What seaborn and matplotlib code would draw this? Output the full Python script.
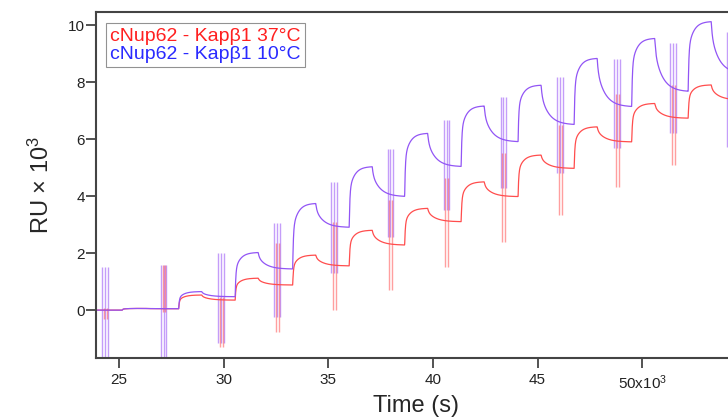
import numpy as np
import pandas as pd
import matplotlib
matplotlib.use("Agg")
import matplotlib.pyplot as plt
import seaborn as sns

# Injection cycles: start of each analyte injection (time in 10^3 s)
inject_start = [25.15, 27.85, 30.55, 33.3, 36.0, 38.65, 41.35, 44.07, 46.75, 49.5, 52.2]
# Response at end of association and at end of dissociation (RU x 10^3)
peak_37 = [0.06, 0.53, 1.12, 1.93, 2.80, 3.57, 4.50, 5.44, 6.43, 7.25, 7.90]
end_37 = [0.05, 0.35, 0.88, 1.55, 2.28, 3.10, 3.98, 4.97, 5.90, 6.73, 7.37]
peak_10 = [0.06, 0.65, 2.02, 3.74, 5.03, 6.20, 7.16, 7.89, 8.83, 9.53, 10.12]
end_10 = [0.05, 0.47, 1.44, 2.90, 3.98, 5.03, 5.90, 6.50, 7.13, 7.66, 8.30]

# Buffer pulses between injections: time and excursion range of each trace
pulse_time = [24.33, 27.13, 29.88, 32.55, 35.27, 37.97, 40.65, 43.37, 46.07, 48.79, 51.47, 54.19]
pulse_top_10 = [1.52, 1.58, 2.00, 3.04, 4.50, 5.64, 6.67, 7.48, 8.19, 8.80, 9.36, 9.77]
pulse_bot_10 = [-1.75, -1.75, -1.16, -0.23, 1.30, 2.57, 3.50, 4.30, 4.80, 5.68, 6.20, 5.73]
pulse_top_37 = [0.06, 1.58, 0.47, 2.35, 3.10, 3.86, 4.63, 5.50, 6.49, 7.60, 7.90, 8.70]
pulse_bot_37 = [-0.30, -0.05, -1.29, -0.76, 0.00, 0.70, 1.52, 2.40, 3.33, 4.33, 5.09, 5.50]

labels = ["cNup62 - Kap\u03b21 37\u00b0C", "cNup62 - Kap\u03b21 10\u00b0C"]
line_colors = ["#ff4d4d", "#9255f5"]
pulse_colors = ["#ff2a2a", "#8a3cf5"]
text_colors = ["#ff2020", "#2a2aff"]

ASSOC = 1.1  # injection length, 10^3 s


def assoc_shape(dt):
    return 1 - 0.6 * np.exp(-dt / 0.03) - 0.4 * np.exp(-dt / 0.25)


def sensorgram(t, starts, peaks, ends):
    """Association / dissociation response for a series of injections."""
    y = np.zeros_like(t)
    level = 0.0
    bounds = list(starts[1:]) + [t.max() + 1]
    norm = assoc_shape(ASSOC)
    for s, nxt, p, e in zip(starts, bounds, peaks, ends):
        m = (t >= s) & (t < nxt)
        dt = t[m] - s
        assoc = level + (p - level) * assoc_shape(dt) / norm
        dd = np.clip(dt - ASSOC, 0, None)
        dissoc = e + (p - e) * (0.25 * np.exp(-dd / 0.05) + 0.75 * np.exp(-dd / 0.38))
        y[m] = np.where(dt < ASSOC, assoc, dissoc)
        level = e
    return y


t = np.linspace(23.9, 54.5, 4000)
df = pd.concat([
    pd.DataFrame({"time": t, "RU": sensorgram(t, inject_start, peak_37, end_37), "series": labels[0]}),
    pd.DataFrame({"time": t, "RU": sensorgram(t, inject_start, peak_10, end_10), "series": labels[1]}),
])

sns.set_style("ticks")
plt.rcParams["font.family"] = ["Liberation Sans", "DejaVu Sans"]
plt.rcParams["mathtext.fontset"] = "custom"
plt.rcParams["mathtext.rm"] = "Liberation Sans"
plt.rcParams["mathtext.it"] = "Liberation Sans:italic"

fig = plt.figure(figsize=(7.28, 4.18), dpi=100)
ax = fig.add_axes([0.1319, 0.1435, 0.8681 + 0.01, 0.8278])

# Buffer pulses drawn as bundles of thin vertical strokes
for tp, bt, bb, rt, rb in zip(pulse_time, pulse_top_10, pulse_bot_10, pulse_top_37, pulse_bot_37):
    for off in (-0.13, 0.0, 0.13):
        ax.vlines(tp + off, bb, bt, color=pulse_colors[1], alpha=0.5, linewidth=1.0)
    for off in (-0.05, 0.08):
        ax.vlines(tp + off, rb, rt, color=pulse_colors[0], alpha=0.45, linewidth=1.0)

sns.lineplot(data=df, x="time", y="RU", hue="series", palette=line_colors,
             estimator=None, sort=False, linewidth=0.9, ax=ax)

ax.set_xlim(23.9, 54.45)
ax.set_ylim(-1.68, 10.46)
ax.set_xticks([25, 30, 35, 40, 45, 50])
ax.set_xticklabels(["25", "30", "35", "40", "45", "50x10$^{3}$"])
ax.set_yticks([0, 2, 4, 6, 8, 10])
ax.set_xlabel("Time (s)", fontsize=17, labelpad=2)
ax.set_ylabel("RU \u00d7 10$^{3}$", fontsize=17, labelpad=10)

spine_c = "#444444"
for side in ("left", "bottom", "top"):
    ax.spines[side].set_color(spine_c)
    ax.spines[side].set_linewidth(1.5)
ax.spines["right"].set_visible(False)
ax.tick_params(axis="both", direction="out", length=7, width=1.3, color=spine_c,
               labelsize=11, labelcolor="#222222")
ax.tick_params(axis="x", pad=4)
ax.tick_params(axis="y", pad=1)

leg = ax.legend(loc="upper left", bbox_to_anchor=(0.016, 0.968), borderaxespad=0,
                frameon=True, fancybox=False, handlelength=0, handletextpad=0,
                fontsize=14, borderpad=0.2, labelspacing=0.05)
leg.get_frame().set_edgecolor("#777777")
leg.get_frame().set_linewidth(0.8)
for h in leg.legend_handles:
    h.set_visible(False)
for txt, c in zip(leg.get_texts(), text_colors):
    txt.set_color(c)

fig.savefig("out.png", dpi=100)
